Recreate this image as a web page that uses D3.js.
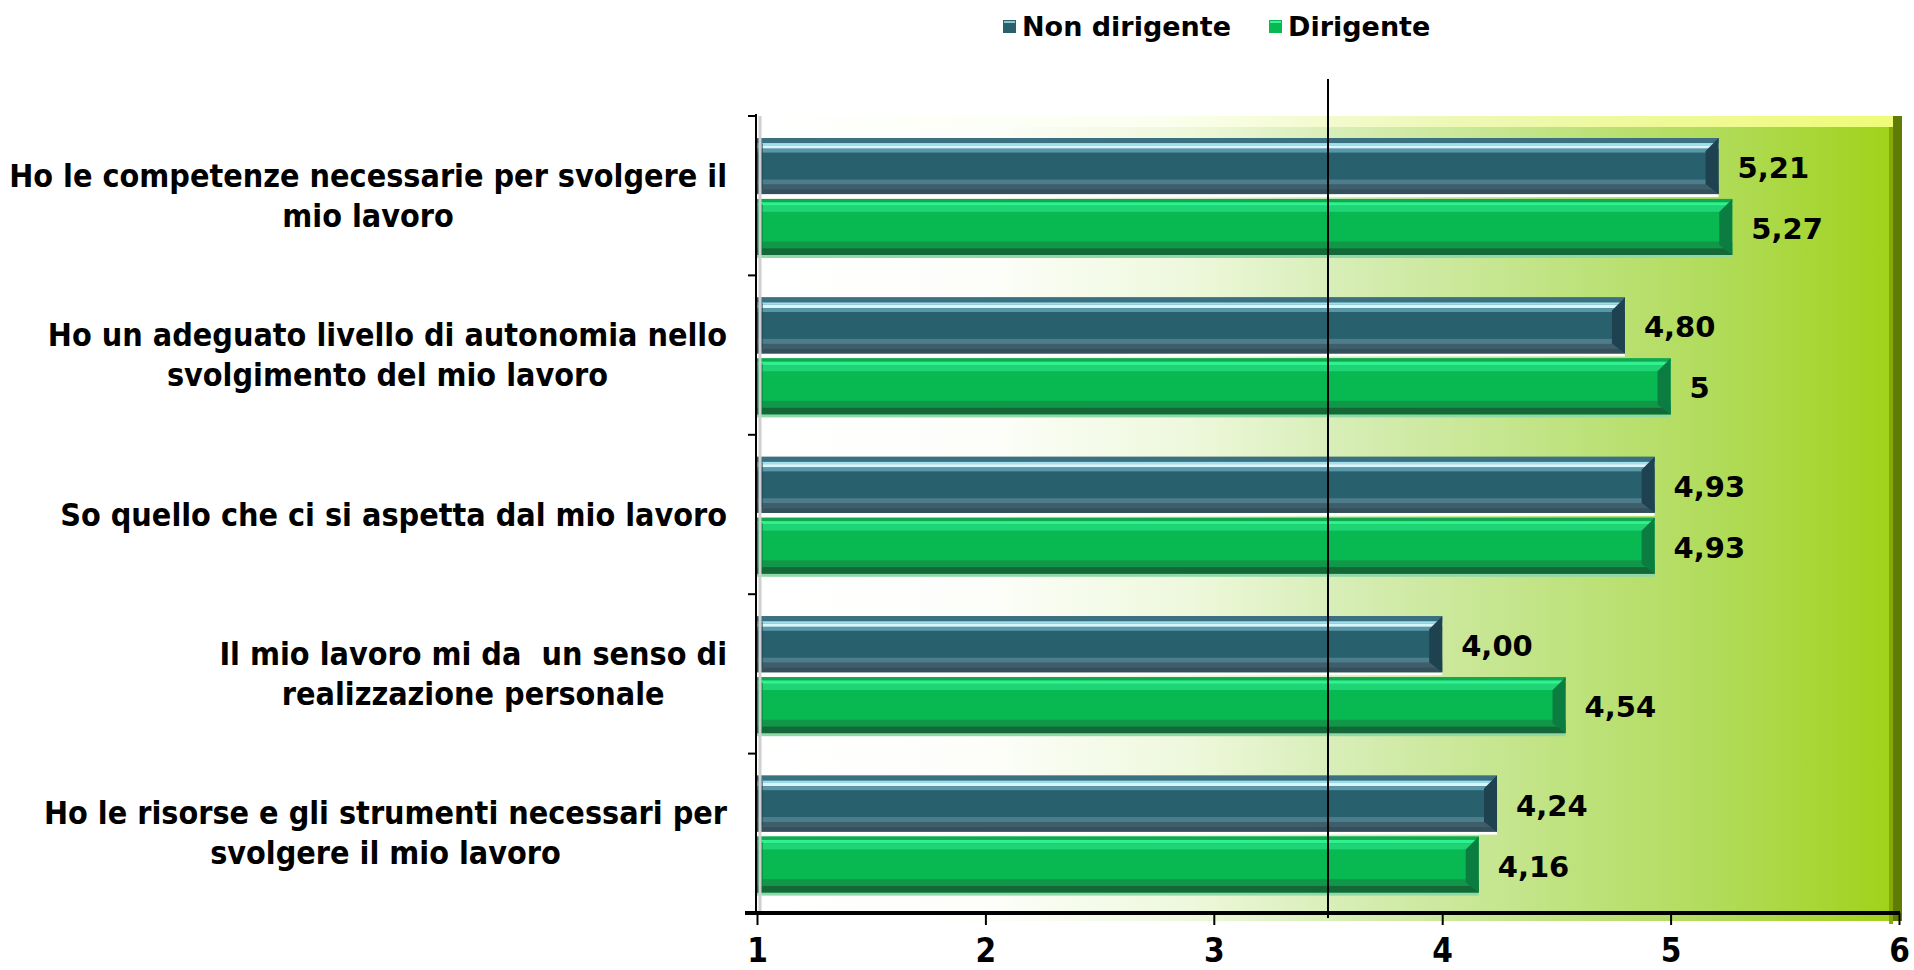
<!DOCTYPE html>
<html>
<head>
<meta charset="utf-8">
<script src="https://cdn.jsdelivr.net/npm/d3@7"></script>
<style>
  body { margin: 0; background: #fff; }
  svg { display: block; }
</style>
</head>
<body>
<div id="chart"></div>
<script>
// data
var categories = [
    ["Ho le competenze necessarie per svolgere il", "mio lavoro"],
    ["Ho un adeguato livello di autonomia nello", "svolgimento del mio lavoro"],
    ["So quello che ci si aspetta dal mio lavoro"],
    ["Il mio lavoro mi da  un senso di", "realizzazione personale"],
    ["Ho le risorse e gli strumenti necessari per", "svolgere il mio lavoro"]
];
var seriesNames = ["Non dirigente", "Dirigente"];
var nonDirigente = [5.21, 4.80, 4.93, 4.00, 4.24];
var dirigente = [5.27, 5, 4.93, 4.54, 4.16];
var xTicks = [1, 2, 3, 4, 5, 6];
var refValue = 3.5;

var W = 1914, H = 970;
var m = { left: 757, right: 1899, top: 116, bottom: 913 };

var svg = d3.select("#chart").append("svg")
    .attr("width", W)
    .attr("height", H);

var defs = svg.append("defs");

var bg = defs.append("linearGradient").attr("id", "bgGrad")
    .attr("x1", "0%").attr("x2", "100%").attr("y1", "0%").attr("y2", "0%");
[[0, "#ffffff"], [0.2, "#fdfefa"], [0.38, "#eef8dc"], [0.52, "#d6edb4"],
 [0.7, "#c0e382"], [0.85, "#b0db58"], [1, "#a0d218"]].forEach(function(s) {
    bg.append("stop").attr("offset", s[0]).attr("stop-color", s[1]);
});

var topGrad = defs.append("linearGradient").attr("id", "topGrad")
    .attr("x1", "0%").attr("x2", "100%");
[[0, "#ffffff"], [0.35, "#fbfff0"], [0.6, "#eef8b8"], [1, "#eefc78"]].forEach(function(s) {
    topGrad.append("stop").attr("offset", s[0]).attr("stop-color", s[1]);
});

var x = d3.scaleLinear()
    .domain([1, 6])
    .range([m.left, m.right]);

var y0 = d3.scaleBand()
    .domain(d3.range(categories.length))
    .range([m.top, m.bottom]);

var y1 = d3.scaleBand()
    .domain([0, 1])
    .range([22, 139])
    .paddingInner(0.08);

// plot background with a bit of 3d frame
svg.append("rect")
    .attr("x", m.left)
    .attr("y", m.top)
    .attr("width", m.right - m.left - 4)
    .attr("height", m.bottom - m.top + 8)
    .style("fill", "url(#bgGrad)");

svg.append("rect")
    .attr("x", m.left)
    .attr("y", m.top)
    .attr("width", m.right - m.left - 4)
    .attr("height", 11)
    .style("fill", "url(#topGrad)");

svg.append("rect")
    .attr("x", m.right - 6)
    .attr("y", m.top)
    .attr("width", 9)
    .attr("height", m.bottom - m.top + 8)
    .style("fill", "#5f7d06");

svg.append("rect")
    .attr("x", m.right - 10)
    .attr("y", m.top + 11)
    .attr("width", 4)
    .attr("height", m.bottom - m.top)
    .style("fill", "#86a80a");

// bar styles: strips as [from, to] fraction of height + colour
var barStyles = [
    {
        base: "#28606e",
        strips: [[0, 0.09, "#3a7080"], [0.09, 0.13, "#a0e0ee"], [0.13, 0.19, "#d8f6fc"],
                 [0.19, 0.26, "#5a98a8"], [0.74, 0.83, "#4d7d8a"], [0.83, 0.92, "#3f5e6a"],
                 [0.92, 1, "#34505c"]],
        bevel: "#1f4250",
        after: "#ffffff"
    },
    {
        base: "#08b850",
        strips: [[0, 0.06, "#10a850"], [0.06, 0.12, "#30f090"], [0.12, 0.23, "#1ed474"],
                 [0.76, 0.88, "#109848"], [0.88, 1, "#146838"]],
        bevel: "#0b7d40",
        after: "#90d8a8"
    }
];

var values = [nonDirigente, dirigente];
var fmtNon = function(v) { return d3.format(".2f")(v).replace(".", ","); };
var fmtDir = function(v) { return String(+v.toFixed(2)).replace(".", ","); };
var fmts = [fmtNon, fmtDir];

values.forEach(function(vals, s) {
    var st = barStyles[s];
    var g = svg.append("g").attr("class", "series-" + s);
    var bars = g.selectAll(".bar")
        .data(vals)
        .enter().append("g")
        .attr("class", "bar")
        .attr("transform", function(d, i) {
            return "translate(" + x(1) + "," + (y0(i) + y1(s)) + ")";
        });
    var bh = y1.bandwidth();

    bars.append("rect")
        .attr("x", 0).attr("y", bh)
        .attr("width", function(d) { return x(d) - x(1); })
        .attr("height", 3)
        .style("fill", st.after);

    bars.append("rect")
        .attr("width", function(d) { return x(d) - x(1); })
        .attr("height", bh)
        .style("fill", st.base);

    st.strips.forEach(function(p) {
        bars.append("rect")
            .attr("y", p[0] * bh)
            .attr("width", function(d) { return x(d) - x(1); })
            .attr("height", (p[1] - p[0]) * bh)
            .style("fill", p[2]);
    });

    // right end bevel
    bars.append("path")
        .attr("d", function(d) {
            var w = x(d) - x(1);
            return "M" + (w - 13) + "," + 13 + "L" + w + ",0L" + w + "," + bh +
                   "L" + (w - 13) + "," + (bh - 10) + "Z";
        })
        .style("fill", st.bevel);

    // left end shade
    bars.append("path")
        .attr("d", "M0,0L6,6L6," + (bh - 6) + "L0," + bh + "Z")
        .style("fill", st.bevel)
        .style("opacity", 0.6);

    g.selectAll(".val")
        .data(vals)
        .enter().append("text")
        .attr("class", "val")
        .attr("x", function(d) { return x(d) + 19; })
        .attr("y", function(d, i) { return y0(i) + y1(s) + bh / 2 + 12; })
        .text(function(d) { return fmts[s](d); })
        .style("font-family", "'DejaVu Sans', Verdana, sans-serif")
        .style("font-weight", "bold")
        .style("font-size", "29px")
        .style("fill", "#000");
});

// reference line
svg.append("line")
    .attr("x1", x(refValue)).attr("x2", x(refValue))
    .attr("y1", 79).attr("y2", m.bottom + 5)
    .attr("stroke", "#000")
    .attr("stroke-width", 2);

// left axis
svg.append("line")
    .attr("x1", m.left + 3).attr("x2", m.left + 3)
    .attr("y1", m.top).attr("y2", m.bottom)
    .attr("stroke", "#cfcfcf").attr("stroke-width", 3);
svg.append("line")
    .attr("x1", m.left - 1).attr("x2", m.left - 1)
    .attr("y1", m.top - 2).attr("y2", m.bottom)
    .attr("stroke", "#000").attr("stroke-width", 2);
svg.selectAll(".ytick")
    .data(d3.range(categories.length + 1))
    .enter().append("line")
    .attr("class", "ytick")
    .attr("x1", m.left - 9).attr("x2", m.left - 1)
    .attr("y1", function(i) { return i < categories.length ? y0(i) : m.bottom; })
    .attr("y2", function(i) { return i < categories.length ? y0(i) : m.bottom; })
    .attr("stroke", "#000").attr("stroke-width", 2);

// bottom axis
var xAxis = d3.axisBottom(x)
    .tickValues(xTicks)
    .tickSize(12)
    .tickPadding(14)
    .tickFormat(d3.format("d"));

var xg = svg.append("g")
    .attr("transform", "translate(0," + m.bottom + ")")
    .call(xAxis);
xg.select(".domain")
    .attr("d", "M" + (m.left - 12) + ",0H" + (m.right + 1))
    .attr("stroke", "#000").attr("stroke-width", 4);
xg.selectAll(".tick line").attr("stroke", "#000").attr("stroke-width", 2);
xg.selectAll(".tick text")
    .style("font-family", "'DejaVu Sans Condensed', 'DejaVu Sans', sans-serif")
    .style("font-stretch", "condensed")
    .style("font-weight", "bold")
    .style("font-size", "33px")
    .style("fill", "#000");

// category labels: lines centred in a block right aligned to the axis
var labelRight = 727;
var cat = svg.append("g").attr("class", "cats")
    .style("font-family", "'DejaVu Sans Condensed', 'DejaVu Sans', sans-serif")
    .style("font-stretch", "condensed")
    .style("font-weight", "bold")
    .style("font-size", "32px")
    .style("fill", "#000");

categories.forEach(function(lines, i) {
    var t = cat.append("text")
        .attr("text-anchor", "middle")
        .attr("xml:space", "preserve");
    var cy = y0(i) + y0.bandwidth() / 2;
    var lh = 40;
    lines.forEach(function(l, k) {
        t.append("tspan")
            .attr("y", cy + 11 + (k - (lines.length - 1) / 2) * lh)
            .text(l);
    });
    var maxW = 0;
    t.selectAll("tspan").each(function() {
        maxW = Math.max(maxW, this.getComputedTextLength());
    });
    t.selectAll("tspan").attr("x", labelRight - maxW / 2);
});

// legend
var legendColors = [["#28606e", "#8cc4d0"], ["#08b850", "#40f098"]];
var legend = svg.append("g").attr("class", "legend");
var lx = 1003;
seriesNames.forEach(function(name, i) {
    var item = legend.append("g").attr("transform", "translate(" + lx + ",0)");
    item.append("rect")
        .attr("x", 0).attr("y", 20)
        .attr("width", 13).attr("height", 13)
        .style("fill", legendColors[i][0]);
    item.append("rect")
        .attr("x", 1).attr("y", 21)
        .attr("width", 11).attr("height", 2)
        .style("fill", legendColors[i][1]);
    var txt = item.append("text")
        .attr("x", 19).attr("y", 36)
        .text(name)
        .style("font-family", "'DejaVu Sans', Verdana, sans-serif")
        .style("font-weight", "bold")
        .style("font-size", "27px")
        .style("fill", "#000");
    lx += 19 + txt.node().getComputedTextLength() + 38;
});
</script>
</body>
</html>
